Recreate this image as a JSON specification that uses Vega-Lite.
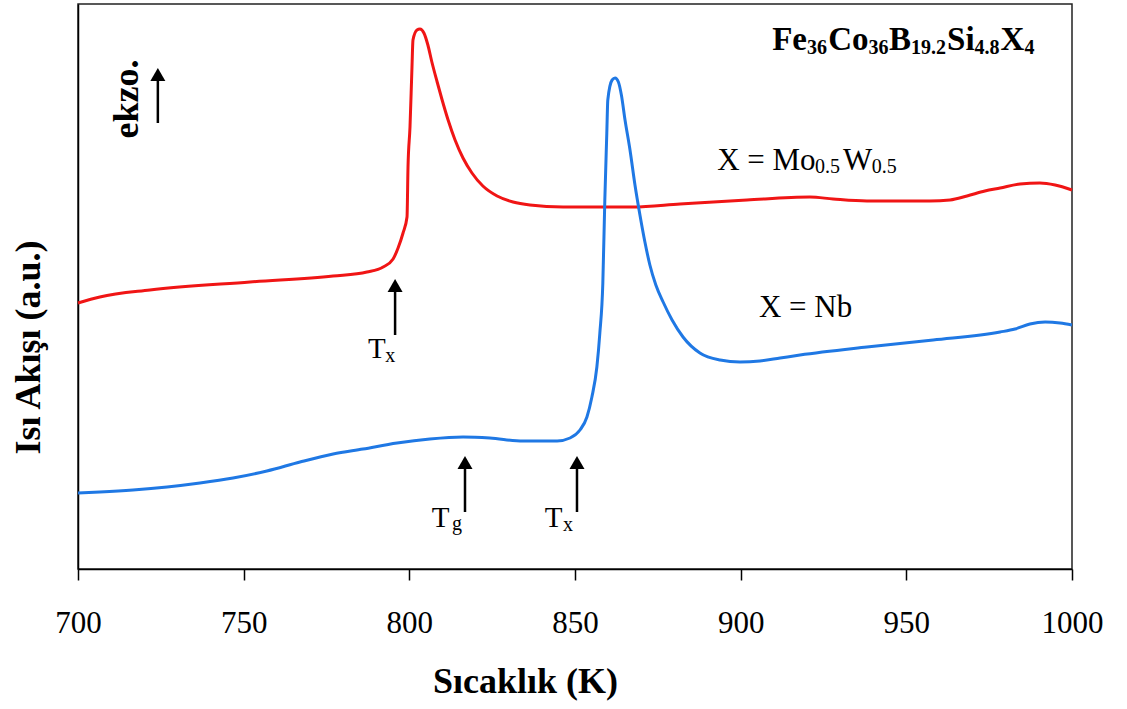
{
  "$schema": "https://vega.github.io/schema/vega-lite/v6.json",
  "width": 994,
  "height": 565,
  "autosize": {"type": "none"},
  "padding": {"left": 78, "top": 4, "right": 55, "bottom": 140},
  "background": "white",
  "config": {"view": {"stroke": "#222", "strokeWidth": 1.5}, "font": "Liberation Serif", "axis": {"labelFont": "Liberation Serif", "titleFont": "Liberation Serif"}},
  "datasets": {
    "curves": [
      {"series": "Mo0.5W0.5", "x": 700.0, "y": 266}, {"series": "Mo0.5W0.5", "x": 706.6, "y": 272}, {"series": "Mo0.5W0.5", "x": 721.7, "y": 279}, {"series": "Mo0.5W0.5", "x": 751.9, "y": 287}, {"series": "Mo0.5W0.5", "x": 777.0, "y": 293}, {"series": "Mo0.5W0.5", "x": 787.2, "y": 297}, {"series": "Mo0.5W0.5", "x": 792.1, "y": 302}, {"series": "Mo0.5W0.5", "x": 795.1, "y": 310}, {"series": "Mo0.5W0.5", "x": 796.6, "y": 321}, {"series": "Mo0.5W0.5", "x": 798.1, "y": 336}, {"series": "Mo0.5W0.5", "x": 799.3, "y": 352}, {"series": "Mo0.5W0.5", "x": 799.6, "y": 402}, {"series": "Mo0.5W0.5", "x": 800.2, "y": 442}, {"series": "Mo0.5W0.5", "x": 800.8, "y": 502}, {"series": "Mo0.5W0.5", "x": 801.1, "y": 529}, {"series": "Mo0.5W0.5", "x": 802.3, "y": 539}, {"series": "Mo0.5W0.5", "x": 803.2, "y": 540}, {"series": "Mo0.5W0.5", "x": 804.4, "y": 536}, {"series": "Mo0.5W0.5", "x": 805.6, "y": 524}, {"series": "Mo0.5W0.5", "x": 806.8, "y": 507}, {"series": "Mo0.5W0.5", "x": 808.4, "y": 487}, {"series": "Mo0.5W0.5", "x": 809.9, "y": 469}, {"series": "Mo0.5W0.5", "x": 811.7, "y": 449}, {"series": "Mo0.5W0.5", "x": 813.8, "y": 429}, {"series": "Mo0.5W0.5", "x": 816.2, "y": 411}, {"series": "Mo0.5W0.5", "x": 818.9, "y": 396}, {"series": "Mo0.5W0.5", "x": 822.2, "y": 383}, {"series": "Mo0.5W0.5", "x": 826.5, "y": 373}, {"series": "Mo0.5W0.5", "x": 831.3, "y": 367}, {"series": "Mo0.5W0.5", "x": 836.4, "y": 364}, {"series": "Mo0.5W0.5", "x": 846.4, "y": 362}, {"series": "Mo0.5W0.5", "x": 856.6, "y": 362}, {"series": "Mo0.5W0.5", "x": 867.5, "y": 362}, {"series": "Mo0.5W0.5", "x": 881.7, "y": 365}, {"series": "Mo0.5W0.5", "x": 901.9, "y": 369}, {"series": "Mo0.5W0.5", "x": 920.9, "y": 372}, {"series": "Mo0.5W0.5", "x": 927.9, "y": 370}, {"series": "Mo0.5W0.5", "x": 938.1, "y": 368}, {"series": "Mo0.5W0.5", "x": 957.1, "y": 368}, {"series": "Mo0.5W0.5", "x": 963.2, "y": 369}, {"series": "Mo0.5W0.5", "x": 968.3, "y": 373}, {"series": "Mo0.5W0.5", "x": 973.7, "y": 378}, {"series": "Mo0.5W0.5", "x": 978.3, "y": 381}, {"series": "Mo0.5W0.5", "x": 984.3, "y": 385}, {"series": "Mo0.5W0.5", "x": 990.3, "y": 386}, {"series": "Mo0.5W0.5", "x": 994.9, "y": 384}, {"series": "Mo0.5W0.5", "x": 1000.0, "y": 379},
      {"series": "Nb", "x": 700.0, "y": 76}, {"series": "Nb", "x": 706.6, "y": 77}, {"series": "Nb", "x": 716.6, "y": 79}, {"series": "Nb", "x": 726.9, "y": 82}, {"series": "Nb", "x": 736.8, "y": 86}, {"series": "Nb", "x": 746.8, "y": 91}, {"series": "Nb", "x": 757.0, "y": 98}, {"series": "Nb", "x": 767.0, "y": 107}, {"series": "Nb", "x": 777.0, "y": 115}, {"series": "Nb", "x": 786.0, "y": 120}, {"series": "Nb", "x": 796.3, "y": 126}, {"series": "Nb", "x": 806.2, "y": 130}, {"series": "Nb", "x": 816.2, "y": 132}, {"series": "Nb", "x": 824.3, "y": 131}, {"series": "Nb", "x": 834.3, "y": 128}, {"series": "Nb", "x": 844.6, "y": 128}, {"series": "Nb", "x": 848.5, "y": 131}, {"series": "Nb", "x": 851.5, "y": 139}, {"series": "Nb", "x": 853.6, "y": 152}, {"series": "Nb", "x": 855.1, "y": 172}, {"series": "Nb", "x": 856.6, "y": 202}, {"series": "Nb", "x": 857.5, "y": 236}, {"series": "Nb", "x": 858.4, "y": 286}, {"series": "Nb", "x": 859.0, "y": 369}, {"series": "Nb", "x": 859.6, "y": 436}, {"series": "Nb", "x": 859.9, "y": 469}, {"series": "Nb", "x": 861.2, "y": 489}, {"series": "Nb", "x": 862.1, "y": 491}, {"series": "Nb", "x": 863.1, "y": 487}, {"series": "Nb", "x": 864.0, "y": 474}, {"series": "Nb", "x": 865.1, "y": 449}, {"series": "Nb", "x": 866.6, "y": 419}, {"series": "Nb", "x": 868.1, "y": 384}, {"series": "Nb", "x": 869.6, "y": 354}, {"series": "Nb", "x": 871.1, "y": 327}, {"series": "Nb", "x": 872.6, "y": 304}, {"series": "Nb", "x": 874.4, "y": 284}, {"series": "Nb", "x": 876.6, "y": 267}, {"series": "Nb", "x": 879.3, "y": 249}, {"series": "Nb", "x": 882.6, "y": 232}, {"series": "Nb", "x": 887.7, "y": 216}, {"series": "Nb", "x": 893.8, "y": 209}, {"series": "Nb", "x": 899.8, "y": 207}, {"series": "Nb", "x": 905.8, "y": 208}, {"series": "Nb", "x": 911.9, "y": 211}, {"series": "Nb", "x": 917.9, "y": 214}, {"series": "Nb", "x": 938.1, "y": 222}, {"series": "Nb", "x": 958.1, "y": 229}, {"series": "Nb", "x": 978.3, "y": 237}, {"series": "Nb", "x": 982.8, "y": 240}, {"series": "Nb", "x": 987.3, "y": 245}, {"series": "Nb", "x": 991.9, "y": 247}, {"series": "Nb", "x": 996.4, "y": 246}, {"series": "Nb", "x": 1000.0, "y": 244}
    ],
    "ticks": [
      {"x": 700}, {"x": 710}, {"x": 720}, {"x": 730}, {"x": 740}, {"x": 750}, {"x": 760}, {"x": 770}, {"x": 780}, {"x": 790}, {"x": 800}, {"x": 810}, {"x": 820}, {"x": 830}, {"x": 840}, {"x": 850}, {"x": 860}, {"x": 870}, {"x": 880}, {"x": 890}, {"x": 900}, {"x": 910}, {"x": 920}, {"x": 930}, {"x": 940}, {"x": 950}, {"x": 960}, {"x": 970}, {"x": 980}, {"x": 990}, {"x": 1000}
    ],
    "arrows": [
      {"name": "ekzo", "x": 724.1, "y": 446, "y2": 494.5},
      {"name": "Tx (Mo0.5W0.5)", "x": 795.7, "y": 234, "y2": 283.5},
      {"name": "Tg (Nb)", "x": 816.8, "y": 57, "y2": 106.5},
      {"name": "Tx (Nb)", "x": 850.6, "y": 57, "y2": 106.5}
    ],
    "labels": [
      {"kind": "formula", "x": 909.5, "y": 519, "text": "Fe"},
      {"kind": "formula", "x": 926.4, "y": 519, "text": "Co"},
      {"kind": "formula", "x": 944.8, "y": 519, "text": "B"},
      {"kind": "formula", "x": 962.3, "y": 519, "text": "Si"},
      {"kind": "formula", "x": 978.4, "y": 519, "text": "X"},
      {"kind": "formula_sub", "x": 920.0, "y": 515, "text": "36"},
      {"kind": "formula_sub", "x": 938.6, "y": 515, "text": "36"},
      {"kind": "formula_sub", "x": 951.4, "y": 515, "text": "19.2"},
      {"kind": "formula_sub", "x": 970.6, "y": 515, "text": "4.8"},
      {"kind": "formula_sub", "x": 985.7, "y": 515, "text": "4"},
      {"kind": "label", "x": 892.9, "y": 399, "text": "X = Mo"},
      {"kind": "label", "x": 930.9, "y": 399, "text": "W"},
      {"kind": "label", "x": 905.5, "y": 252, "text": "X = Nb"},
      {"kind": "sub", "x": 922.4, "y": 396, "text": "0.5"},
      {"kind": "sub", "x": 939.6, "y": 396, "text": "0.5"},
      {"kind": "T", "x": 787.5, "y": 211, "text": "T"},
      {"kind": "sub", "x": 792.7, "y": 207, "text": "x"},
      {"kind": "T", "x": 806.8, "y": 42, "text": "T"},
      {"kind": "sub", "x": 812.9, "y": 39, "text": "g"},
      {"kind": "T", "x": 840.9, "y": 42, "text": "T"},
      {"kind": "sub", "x": 846.4, "y": 38, "text": "x"},
      {"kind": "ekzo", "x": 718.1, "y": 470, "text": "ekzo."}
    ]
  },
  "encoding": {
    "x": {
      "field": "x", "type": "quantitative",
      "scale": {"domain": [700, 1000], "nice": false, "zero": false},
      "axis": {
        "values": [700, 750, 800, 850, 900, 950, 1000],
        "format": "d",
        "title": "Sıcaklık (K)",
        "titleFont": "Liberation Serif", "titleFontSize": 36, "titleFontWeight": "bold", "titleColor": "black",
        "titleX": 447, "titleY": 95, "titleBaseline": "top", "titleAlign": "center", "titleAnchor": null,
        "labelFont": "Liberation Serif", "labelFontSize": 31, "labelColor": "black", "labelPadding": 28,
        "labelFlush": false, "labelOverlap": false,
        "tickSize": 11, "tickColor": "black", "tickWidth": 1.5,
        "domainColor": "black", "domainWidth": 1.5, "grid": false
      }
    },
    "y": {
      "field": "y", "type": "quantitative",
      "scale": {"domain": [0, 565], "nice": false, "zero": false},
      "axis": {
        "title": "Isı Akışı (a.u.)",
        "ticks": false, "labels": false, "grid": false,
        "domainColor": "black", "domainWidth": 1.5,
        "titleFont": "Liberation Serif", "titleFontSize": 36, "titleFontWeight": "bold", "titleColor": "black",
        "titleX": -39, "titleY": 343, "titleAngle": 270, "titleBaseline": "alphabetic", "titleAlign": "center"
      }
    }
  },
  "layer": [
    {
      "data": {"name": "ticks"},
      "mark": {"type": "rule", "color": "black", "strokeWidth": 1.5},
      "encoding": {"y": {"datum": 0}, "y2": {"datum": 5}}
    },
    {
      "data": {"name": "curves"},
      "mark": {"type": "line", "strokeWidth": 3, "interpolate": "monotone"},
      "encoding": {
        "color": {"field": "series", "type": "nominal", "scale": {"domain": ["Mo0.5W0.5", "Nb"], "range": ["#f01515", "#1f78e4"]}, "legend": null}
      }
    },
    {
      "data": {"name": "arrows"},
      "mark": {"type": "rule", "color": "black", "strokeWidth": 2.5},
      "encoding": {"y2": {"field": "y2"}}
    },
    {
      "data": {"name": "arrows"},
      "mark": {"type": "point", "shape": "triangle-up", "filled": true, "color": "black", "opacity": 1, "size": 225},
      "encoding": {"y": {"field": "y2", "type": "quantitative"}}
    },
    {
      "data": {"name": "labels"},
      "transform": [{"filter": "datum.kind === 'formula'"}],
      "mark": {"type": "text", "align": "left", "baseline": "alphabetic", "font": "Liberation Serif", "fontWeight": "bold", "fontSize": 33, "color": "black"},
      "encoding": {"text": {"field": "text"}}
    },
    {
      "data": {"name": "labels"},
      "transform": [{"filter": "datum.kind === 'formula_sub'"}],
      "mark": {"type": "text", "align": "left", "baseline": "alphabetic", "font": "Liberation Serif", "fontWeight": "bold", "fontSize": 20, "color": "black"},
      "encoding": {"text": {"field": "text"}}
    },
    {
      "data": {"name": "labels"},
      "transform": [{"filter": "datum.kind === 'label'"}],
      "mark": {"type": "text", "align": "left", "baseline": "alphabetic", "font": "Liberation Serif", "fontSize": 31, "color": "black"},
      "encoding": {"text": {"field": "text"}}
    },
    {
      "data": {"name": "labels"},
      "transform": [{"filter": "datum.kind === 'T'"}],
      "mark": {"type": "text", "align": "left", "baseline": "alphabetic", "font": "Liberation Serif", "fontSize": 29, "color": "black"},
      "encoding": {"text": {"field": "text"}}
    },
    {
      "data": {"name": "labels"},
      "transform": [{"filter": "datum.kind === 'sub'"}],
      "mark": {"type": "text", "align": "left", "baseline": "alphabetic", "font": "Liberation Serif", "fontSize": 20, "color": "black"},
      "encoding": {"text": {"field": "text"}}
    },
    {
      "data": {"name": "labels"},
      "transform": [{"filter": "datum.kind === 'ekzo'"}],
      "mark": {"type": "text", "align": "center", "baseline": "alphabetic", "angle": 270, "font": "Liberation Serif", "fontWeight": "bold", "fontSize": 36, "color": "black"},
      "encoding": {"text": {"field": "text"}}
    }
  ]
}
